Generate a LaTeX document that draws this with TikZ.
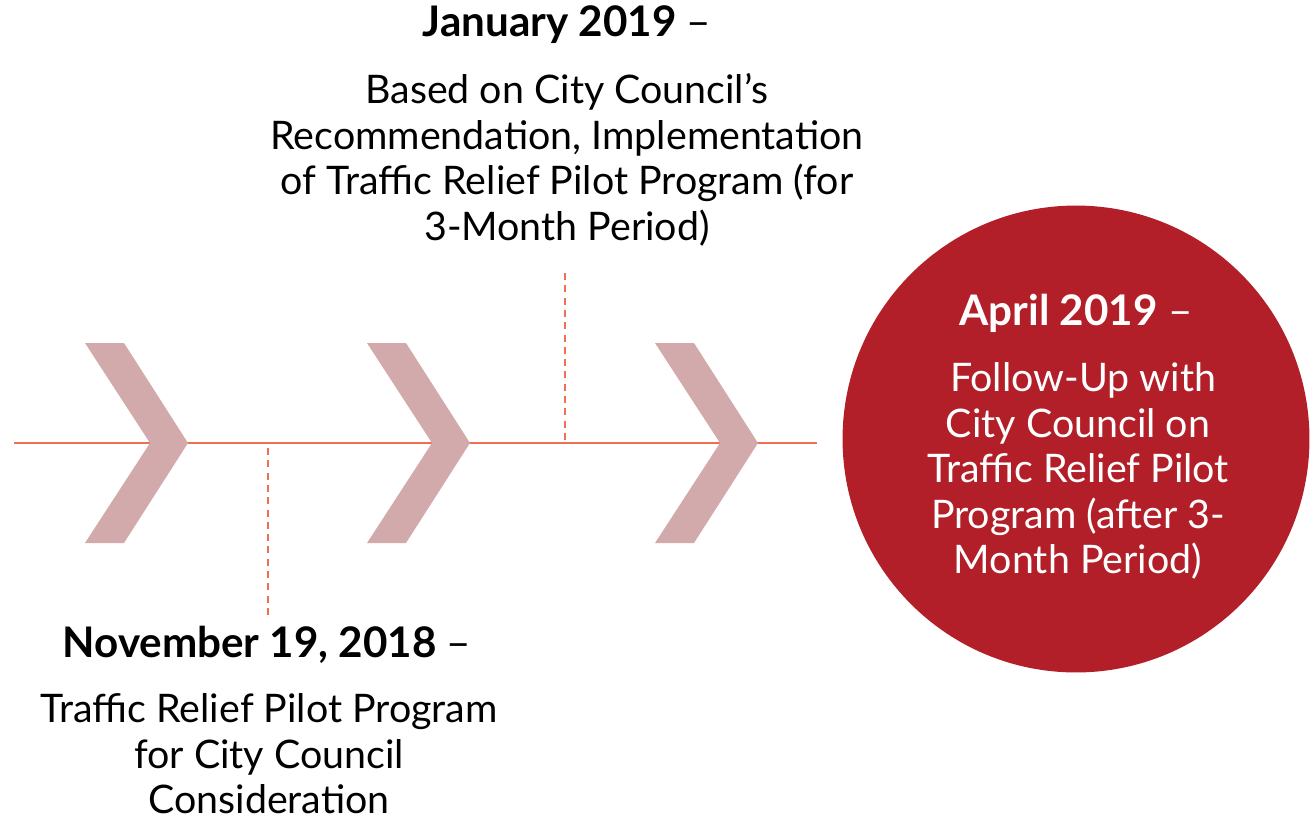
\documentclass[tikz,border=0pt]{standalone}
\usepackage{fontspec}
\setmainfont{Lato}
\usetikzlibrary{positioning}
\definecolor{ChevronRose}{RGB}{211,170,171}
\definecolor{AxisOrange}{RGB}{238,112,82}
\definecolor{CircleRed}{RGB}{178,31,41}

\begin{document}
\begin{tikzpicture}[x=0.02cm,y=-0.02cm]
  \tikzset{chev/.style={fill=ChevronRose, draw=none},
    axis/.style={draw=AxisOrange, line width=0.8pt},
    tick/.style={draw=AxisOrange, line width=0.8pt, dash pattern=on 4pt off 3pt},
    hd/.style={align=center, inner sep=0pt, font=\fontsize{24}{25.9}\selectfont\bfseries},
    bd/.style={align=center, inner sep=0pt, font=\fontsize{22.4}{25.9}\selectfont}}
  \useasboundingbox (0,0) rectangle (1310,819);
  % timeline
  \coordinate (start) at (14,443);
  \coordinate (end) at (817,443);
  \draw[axis] (start) -- (end);
  \foreach \cx in {85,367,655}
    \fill[chev] (\cx,343) -- ++(39,0) -- ++(64,100) -- ++(-64,100) -- ++(-39,0) -- ++(65,-100) -- cycle;
  % ticks
  \coordinate (jantop) at (565,273);
  \coordinate (janaxis) at (565,443);
  \coordinate (novaxis) at (268,448);
  \coordinate (novbot) at (268,618);
  \draw[tick] (jantop) -- (janaxis);
  \draw[tick] (novaxis) -- (novbot);
  % january
  \node[hd] (janhead) at (567,25) {January 2019 \mdseries--};
  \node[bd] (janbody) at (567,160) {Based on City Council’s\\Recommendation, Implementation\\of Traffic Relief Pilot Program (for\\3-Month Period)};
  % november
  \node[hd] (novhead) at (267,645) {November 19, 2018 \mdseries--};
  \node[bd] (novbody) at (269,754) {Traffic Relief Pilot Program\\for City Council\\Consideration};
  % april
  \node[circle, fill=CircleRed, minimum size=9.34cm, inner sep=0pt] (aprcircle) at (1076,439) {};
  \node[hd, text=white] (aprhead) at (1076,313) {April 2019 \mdseries--};
  \node[bd, text=white] (aprbody) at (1078,471) {\ Follow-Up with\\City Council on\\Traffic Relief Pilot\\Program (after 3-\\Month Period)};
\end{tikzpicture}
\end{document}
